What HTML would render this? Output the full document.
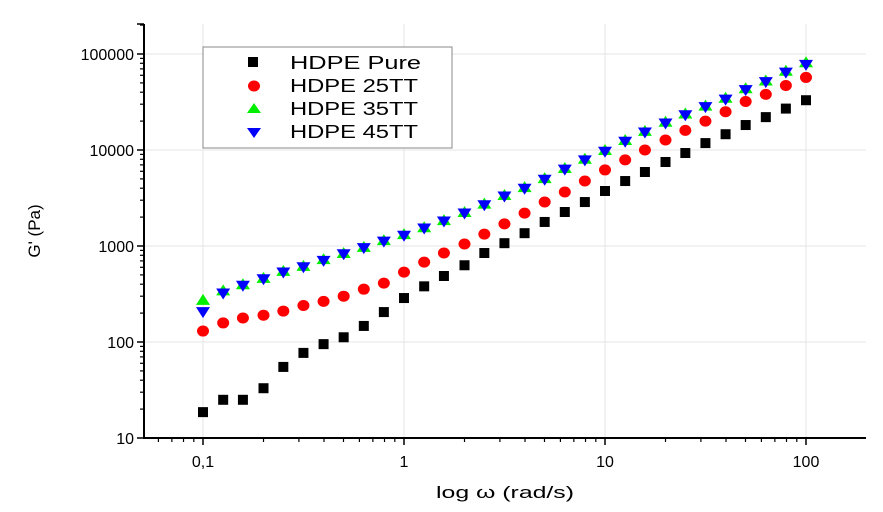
<!DOCTYPE html>
<html><head><meta charset="utf-8"><style>
html,body{margin:0;padding:0;background:#fff;}
svg{display:block;font-family:"Liberation Sans",Arial,sans-serif;}
</style></head><body>
<svg id="chart" width="883" height="512" viewBox="0 0 883 512" xmlns="http://www.w3.org/2000/svg">
<g id="grid"></g>
<g id="axes"></g>
<g id="marks"></g>
<text x="40" y="231" font-size="17" text-anchor="middle" transform="rotate(-90 40 231)">G' (Pa)</text>
<text x="505" y="498" font-size="17" text-anchor="middle" textLength="138" lengthAdjust="spacingAndGlyphs">log ω (rad/s)</text>
<g>
<rect x="203" y="47" width="249" height="101" fill="#fff" stroke="#888" stroke-width="1"/>
<rect x="248" y="57" width="10" height="10" fill="#000"/>
<text x="290" y="69" font-size="18" textLength="131" lengthAdjust="spacingAndGlyphs">HDPE Pure</text>
<ellipse cx="254" cy="86" rx="6" ry="5.5" fill="#ff0000"/>
<text x="290" y="92" font-size="18" textLength="128" lengthAdjust="spacingAndGlyphs">HDPE 25TT</text>
<polygon points="254,103 261,113 247,113" fill="#00ee00"/>
<text x="290" y="115" font-size="18" textLength="128" lengthAdjust="spacingAndGlyphs">HDPE 35TT</text>
<polygon points="247,128 261,128 254,138" fill="#0000ff"/>
<text x="290" y="138" font-size="18" textLength="128" lengthAdjust="spacingAndGlyphs">HDPE 45TT</text>
</g>
</svg>
<script>
const omega = [0.1,0.126,0.158,0.2,0.251,0.316,0.398,0.501,0.631,0.794,1,1.26,1.58,2,2.51,3.16,3.98,5.01,6.31,7.94,10,12.6,15.8,20,25.1,31.6,39.8,50.1,63.1,79.4,100];
const pure = [18.6,25,25,33,55,77,95,112,147,205,287,380,487,630,845,1070,1360,1780,2260,2870,3740,4750,5900,7500,9300,11800,14600,18200,22000,27000,33000];
const tt25 = [130,158,178,190,210,240,265,300,355,410,535,680,845,1050,1330,1700,2200,2870,3650,4750,6200,7900,10000,12700,16000,20000,25000,32000,38000,47000,57000];
const tt35 = [275,345,400,465,550,620,730,845,980,1150,1330,1570,1860,2260,2760,3400,4100,5100,6500,8100,10000,12700,15800,19700,24000,29000,35000,44000,53000,67000,82000];
const tt45 = [205,320,385,450,530,600,700,820,950,1110,1280,1520,1800,2180,2660,3280,3950,4900,6250,7800,9600,12200,15200,18900,23000,28000,33500,42000,51000,64000,77000];
const xTicks = [0.1,1,10,100];
const xTickLabels = ["0,1","1","10","100"];
const yTicks = [10,100,1000,10000,100000];
const yTickLabels = ["10","100","1000","10000","100000"];

const NS="http://www.w3.org/2000/svg";
const X0=144,X1=866,Y0=438,Y1=24;
function xs(v){return 404+201*Math.log10(v);}
function ys(v){return 342-96*(Math.log10(v)-2);}
function mk(tag,attrs,parent){const e=document.createElementNS(NS,tag);for(const k in attrs)e.setAttribute(k,attrs[k]);parent.appendChild(e);return e;}
const grid=document.getElementById('grid'),axes=document.getElementById('axes'),marks=document.getElementById('marks');

xTicks.forEach((t,i)=>{
  const g=mk('line',{x1:xs(t),x2:xs(t),y1:Y1,y2:Y0,stroke:'#e6e6e6','stroke-width':1},grid);
  
  
  const l=mk('line',{x1:xs(t),x2:xs(t),y1:Y0,y2:Y0+7,stroke:'#000','stroke-width':1.5},axes);
  
  
  const tx=mk('text',{x:xs(t),y:467,'font-size':16,'text-anchor':'middle'},axes);
  tx.textContent=xTickLabels[i];
  
  
});
for(let d=-2;d<=2;d++){for(let m=2;m<=9;m++){const v=m*Math.pow(10,d);const x=xs(v);if(x<X0||x>X1)continue;
  const l=mk('line',{x1:x,x2:x,y1:Y0,y2:Y0+4,stroke:'#000','stroke-width':1.2},axes);
  
  }}
yTicks.forEach((t,i)=>{
  const g=mk('line',{x1:X0,x2:X1,y1:ys(t),y2:ys(t),stroke:'#e6e6e6','stroke-width':1},grid);
  
  
  const l=mk('line',{x1:X0-7,x2:X0,y1:ys(t),y2:ys(t),stroke:'#000','stroke-width':1.5},axes);
  
  
  const tx=mk('text',{x:X0-10,y:ys(t)+6,'font-size':16,'text-anchor':'end'},axes);
  tx.textContent=yTickLabels[i];
  
  
});
for(let d=1;d<=5;d++){for(let m=2;m<=9;m++){const v=m*Math.pow(10,d);const y=ys(v);if(y<Y1)continue;
  const l=mk('line',{x1:X0-4,x2:X0,y1:y,y2:y,stroke:'#000','stroke-width':1.2},axes);
  
  }}
const yt=mk('line',{x1:X0-7,x2:X0,y1:Y1,y2:Y1,stroke:'#000','stroke-width':1.5},axes);


const ya=mk('line',{x1:X0,x2:X0,y1:Y1,y2:Y0+1,stroke:'#000','stroke-width':2},axes);


const xa=mk('line',{x1:X0-1,x2:X1,y1:Y0,y2:Y0,stroke:'#000','stroke-width':2},axes);



omega.forEach((w,i)=>{const x=xs(w),y=ys(pure[i]);
  const e=mk('rect',{x:x-5,y:y-5,width:10,height:10,fill:'#000'},marks);
  
  });
omega.forEach((w,i)=>{const x=xs(w),y=ys(tt25[i]);
  const e=mk('ellipse',{cx:x,cy:y,rx:6,ry:5.5,fill:'#ff0000'},marks);
  
  });
omega.forEach((w,i)=>{const x=xs(w),y=ys(tt35[i]);
  const e=mk('polygon',{points:`${x},${y-6} ${x+7},${y+5} ${x-7},${y+5}`,fill:'#00ee00'},marks);
  
  });
omega.forEach((w,i)=>{const x=xs(w),y=ys(tt45[i]);
  const e=mk('polygon',{points:`${x-7},${y-5} ${x+7},${y-5} ${x},${y+6}`,fill:'#0000ff'},marks);
  
  });
</script>
</body></html>
